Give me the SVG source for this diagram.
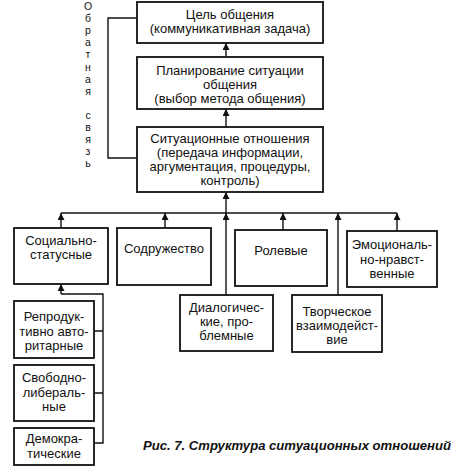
<svg xmlns="http://www.w3.org/2000/svg" width="454" height="472" viewBox="0 0 454 472">
<style>
.b{fill:#fff;stroke:#111;stroke-width:1.8}
.t{font-family:"Liberation Sans",Arial,sans-serif;font-size:13px;fill:#111;text-anchor:middle}
.l{fill:none;stroke:#111;stroke-width:1.4}
.v{font-family:"Liberation Sans",Arial,sans-serif;font-size:10.5px;fill:#111;text-anchor:middle}
.c{font-family:"Liberation Sans",Arial,sans-serif;font-size:13px;font-weight:bold;font-style:italic;fill:#111}
</style>
<defs>
<marker id="a" viewBox="0 0 10 10" refX="10" refY="5" markerWidth="9" markerHeight="7" markerUnits="userSpaceOnUse" orient="auto">
<path d="M0,0 L10,5 L0,10 z" fill="#111"/>
</marker>
</defs>
<rect width="454" height="472" fill="#fff"/>
<g id="connectors">
<path class="l" d="M137,18 H108 V158 H137"/>
<line class="l" x1="226" y1="57" x2="226" y2="43" marker-end="url(#a)"/>
<line class="l" x1="226" y1="127" x2="226" y2="109" marker-end="url(#a)"/>
<line class="l" x1="226" y1="213" x2="226" y2="192" marker-end="url(#a)"/>
<line class="l" x1="61" y1="213" x2="397" y2="213"/>
<line class="l" x1="61" y1="228" x2="61" y2="213" marker-end="url(#a)"/>
<line class="l" x1="165" y1="228" x2="165" y2="213" marker-end="url(#a)"/>
<line class="l" x1="283" y1="230" x2="283" y2="213" marker-end="url(#a)"/>
<line class="l" x1="397" y1="231" x2="397" y2="213" marker-end="url(#a)"/>
<line class="l" x1="226" y1="295" x2="226" y2="213" marker-end="url(#a)"/>
<line class="l" x1="338" y1="295" x2="338" y2="213" marker-end="url(#a)"/>
<path class="l" d="M94,331 H103 M94,393 H103 M94,443 H103 V294 H61"/>
<line class="l" x1="61" y1="294" x2="61" y2="284" marker-end="url(#a)"/>
</g>
<g id="feedback">
<text class="v"><tspan x="88" y="10">О</tspan><tspan x="88" y="22">б</tspan><tspan x="88" y="34">р</tspan><tspan x="88" y="46">а</tspan><tspan x="88" y="58">т</tspan><tspan x="88" y="70.5">н</tspan><tspan x="88" y="82.5">а</tspan><tspan x="88" y="94.5">я</tspan><tspan x="88" y="118.5">с</tspan><tspan x="88" y="131">в</tspan><tspan x="88" y="143">я</tspan><tspan x="88" y="155">з</tspan><tspan x="88" y="167">ь</tspan></text>
</g>
<g id="goal">
<rect class="b" x="137" y="2" width="186" height="41"/>
<text class="t"><tspan x="230" y="18.5">Цель общения</tspan><tspan x="230" y="32.5">(коммуникативная задача)</tspan></text>
</g>
<g id="planning">
<rect class="b" x="137" y="57" width="186" height="52"/>
<text class="t"><tspan x="230" y="75">Планирование ситуации</tspan><tspan x="230" y="89">общения</tspan><tspan x="230" y="103">(выбор метода общения)</tspan></text>
</g>
<g id="situational">
<rect class="b" x="137" y="127" width="186" height="65"/>
<text class="t"><tspan x="230" y="143">Ситуационные отношения</tspan><tspan x="230" y="157">(передача информации,</tspan><tspan x="230" y="171">аргументация, процедуры,</tspan><tspan x="230" y="185">контроль)</tspan></text>
</g>
<g id="social">
<rect class="b" x="14" y="228" width="94" height="56"/>
<text class="t"><tspan x="61" y="244.5">Социально-</tspan><tspan x="61" y="258.5">статусные</tspan></text>
</g>
<g id="commonwealth">
<rect class="b" x="117" y="228" width="94" height="57"/>
<text class="t" x="164" y="253">Содружество</text>
</g>
<g id="role">
<rect class="b" x="235" y="230" width="92" height="56"/>
<text class="t" x="281" y="255">Ролевые</text>
</g>
<g id="emotional">
<rect class="b" x="347" y="231" width="90" height="56"/>
<text class="t"><tspan x="392" y="249">Эмоциональ-</tspan><tspan x="392" y="263.5">но-нравст-</tspan><tspan x="392" y="278">венные</tspan></text>
</g>
<g id="dialog">
<rect class="b" x="180" y="295" width="93" height="56"/>
<text class="t"><tspan x="226.5" y="312">Диалогичес-</tspan><tspan x="226.5" y="326">кие, про-</tspan><tspan x="226.5" y="340">блемные</tspan></text>
</g>
<g id="creative">
<rect class="b" x="292" y="295" width="90" height="57"/>
<text class="t"><tspan x="337" y="316">Творческое</tspan><tspan x="337" y="330">взаимодейст-</tspan><tspan x="337" y="344">вие</tspan></text>
</g>
<g id="reproductive">
<rect class="b" x="14" y="301" width="80" height="57"/>
<text class="t"><tspan x="54" y="321">Репродук-</tspan><tspan x="54" y="336">тивно авто-</tspan><tspan x="54" y="350">ритарные</tspan></text>
</g>
<g id="liberal">
<rect class="b" x="14" y="365" width="80" height="56"/>
<text class="t"><tspan x="54" y="382">Свободно-</tspan><tspan x="54" y="397">либераль-</tspan><tspan x="54" y="411">ные</tspan></text>
</g>
<g id="democratic">
<rect class="b" x="14" y="428" width="80" height="37"/>
<text class="t"><tspan x="54" y="443">Демокра-</tspan><tspan x="54" y="458">тические</tspan></text>
</g>
<text class="c" x="143" y="450" textLength="308" lengthAdjust="spacingAndGlyphs">Рис. 7. Структура ситуационных отношений</text>
</svg>
